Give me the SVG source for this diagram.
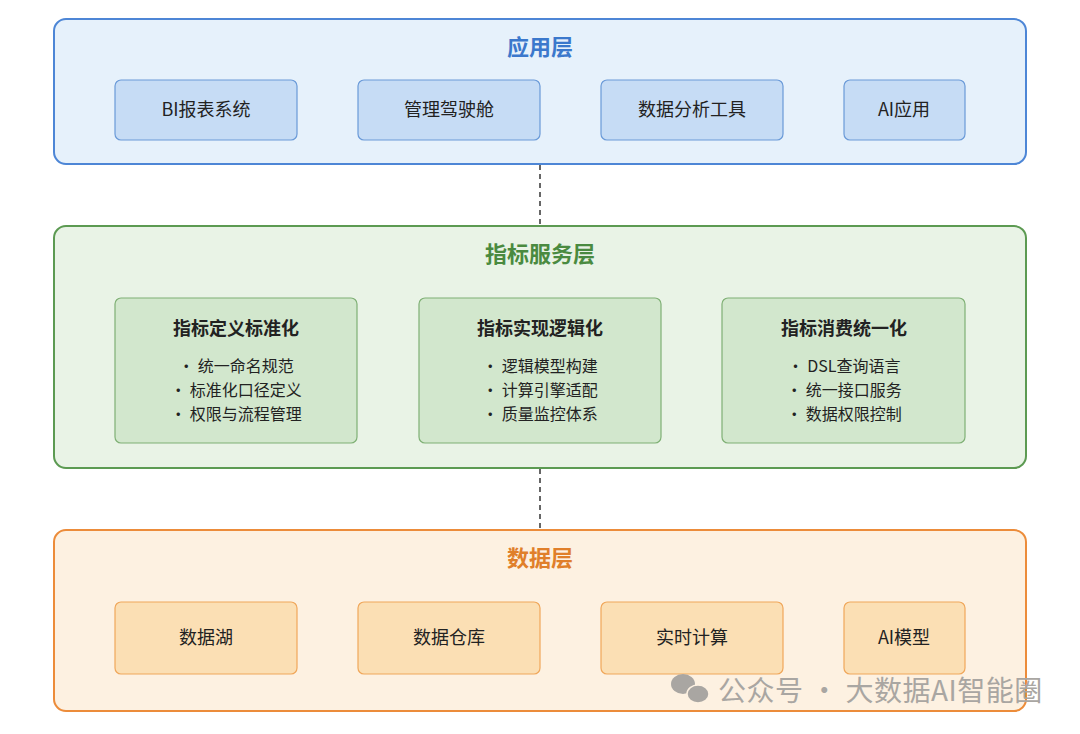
<svg xmlns="http://www.w3.org/2000/svg" width="1080" height="734" viewBox="0 0 1080 734">
<style>
text{font-family:"Noto Sans CJK SC","Noto Sans",sans-serif;text-anchor:middle}
.lt{font-size:22px;font-weight:bold}
.bt{font-size:18px;fill:#222}
.ht{font-size:18px;font-weight:bold;fill:#222}
.it{font-size:16px;fill:#222}
.b1{fill:#c6dcf5;stroke:#6a9ad8;stroke-width:1.2}
.b2{fill:#d2e7cd;stroke:#7fb075;stroke-width:1.2}
.b3{fill:#fbdfb4;stroke:#f0a75a;stroke-width:1.2}
</style>
<rect width="1080" height="734" fill="#fff"/>
<g id="connectors" stroke="#666" stroke-width="2" stroke-dasharray="5,4">
<line x1="540" y1="165" x2="540" y2="225"/>
<line x1="540" y1="469" x2="540" y2="529"/>
</g>
<g id="app">
<rect x="54" y="19" width="972" height="145" rx="12" fill="#e6f1fb" stroke="#4d86d6" stroke-width="2"/>
<text x="540" y="55" class="lt" fill="#3b78cc">应用层</text>
</g>
<g id="bi"><rect x="115" y="80" width="182" height="60" rx="6" class="b1"/><text x="206" y="116" class="bt">BI报表系统</text></g>
<g id="cockpit"><rect x="358" y="80" width="182" height="60" rx="6" class="b1"/><text x="449" y="116" class="bt">管理驾驶舱</text></g>
<g id="tool"><rect x="601" y="80" width="182" height="60" rx="6" class="b1"/><text x="692" y="116" class="bt">数据分析工具</text></g>
<g id="aiapp"><rect x="844" y="80" width="121" height="60" rx="6" class="b1"/><text x="904" y="116" class="bt">AI应用</text></g>
<g id="svc">
<rect x="54" y="226" width="972" height="242" rx="12" fill="#e9f3e6" stroke="#5c9a52" stroke-width="2"/>
<text x="540" y="262" class="lt" fill="#4a8a40">指标服务层</text>
</g>
<g id="def"><rect x="115" y="298" width="242" height="145" rx="6" class="b2"/>
<text x="236" y="335" class="ht">指标定义标准化</text>
<text x="236" y="372" class="it">· 统一命名规范</text><text x="236" y="396" class="it">· 标准化口径定义</text><text x="236" y="420" class="it">· 权限与流程管理</text></g>
<g id="impl"><rect x="419" y="298" width="242" height="145" rx="6" class="b2"/>
<text x="540" y="335" class="ht">指标实现逻辑化</text>
<text x="540" y="372" class="it">· 逻辑模型构建</text><text x="540" y="396" class="it">· 计算引擎适配</text><text x="540" y="420" class="it">· 质量监控体系</text></g>
<g id="use"><rect x="722" y="298" width="243" height="145" rx="6" class="b2"/>
<text x="844" y="335" class="ht">指标消费统一化</text>
<text x="844" y="372" class="it">· DSL查询语言</text><text x="844" y="396" class="it">· 统一接口服务</text><text x="844" y="420" class="it">· 数据权限控制</text></g>
<g id="data">
<rect x="54" y="530" width="972" height="181" rx="12" fill="#fdf1e1" stroke="#ec8c3a" stroke-width="2"/>
<text x="540" y="566" class="lt" fill="#e07f2a">数据层</text>
</g>
<g id="lake"><rect x="115" y="602" width="182" height="72" rx="6" class="b3"/><text x="206" y="644" class="bt">数据湖</text></g>
<g id="dw"><rect x="358" y="602" width="182" height="72" rx="6" class="b3"/><text x="449" y="644" class="bt">数据仓库</text></g>
<g id="rt"><rect x="601" y="602" width="182" height="72" rx="6" class="b3"/><text x="692" y="644" class="bt">实时计算</text></g>
<g id="aim"><rect x="844" y="602" width="121" height="72" rx="6" class="b3"/><text x="904" y="644" class="bt">AI模型</text></g>
<g id="watermark" fill="#a9a6a2">
<ellipse cx="683" cy="684" rx="12" ry="10"/>
<ellipse cx="698" cy="694" rx="11" ry="9" stroke="#fdf1e1" stroke-width="1.5"/>
<text x="718" y="701" style="font-size:28px;letter-spacing:0.5px;fill:#a9a6a2;text-anchor:start">公众号 · 大数据AI智能圈</text>
</g>
</svg>
